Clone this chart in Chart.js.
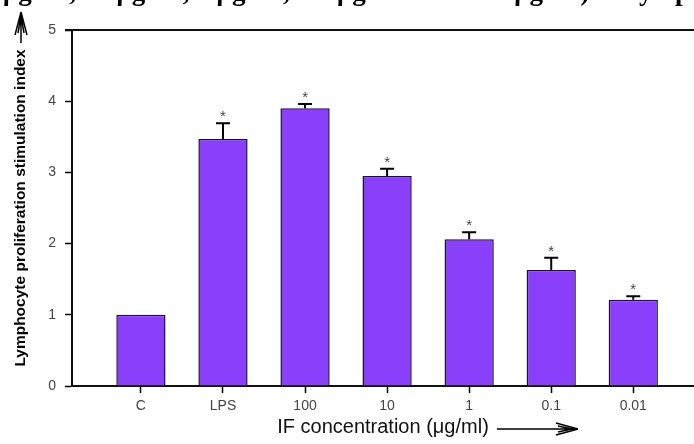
<!DOCTYPE html>
<html><head><meta charset="utf-8">
<script src="https://cdn.jsdelivr.net/npm/chart.js@4"></script>
<style>html,body{margin:0;padding:0;background:#fff;overflow:hidden}#wrap{width:694px;height:444px;position:relative}</style>
</head><body><div id="wrap"><canvas id="c" width="694" height="444"></canvas></div>
<script>
const categories = ['C', 'LPS', '100', '10', '1', '0.1', '0.01'];
const values = [1.0, 3.47, 3.90, 2.95, 2.06, 1.63, 1.21];
const errors = [0, 0.22, 0.06, 0.10, 0.10, 0.17, 0.05];
const significant = [false, true, true, true, true, true, true];
const yTickValues = [0, 1, 2, 3, 4, 5];
const yTitle = 'Lymphocyte proliferation stimulation index';
const xTitle = 'IF concentration (\u03bcg/ml)';
const captionPrefix = '100 ';
const captionRest = '\u03bcg/ml, 10 \u03bcg/ml, 1 \u03bcg/ml, 0.1 \u03bcg/ml and 0.01 \u03bcg/ml) on lymphocyte proliferation';

const extras = {
  id: 'extras',
  afterDatasetsDraw(chart) {
    const ctx = chart.ctx;
    const meta = chart.getDatasetMeta(0);
    const y = chart.scales.y;
    ctx.save();
    meta.data.forEach((bar, i) => {
      const top = y.getPixelForValue(values[i]);
      const cap = y.getPixelForValue(values[i] + errors[i]);
      if (errors[i] > 0) {
        ctx.strokeStyle = '#000';
        ctx.lineWidth = 2;
        ctx.beginPath();
        ctx.moveTo(bar.x, top);
        ctx.lineTo(bar.x, cap);
        ctx.moveTo(bar.x - 7, cap);
        ctx.lineTo(bar.x + 7, cap);
        ctx.stroke();
      }
      if (significant[i]) {
        ctx.fillStyle = '#444';
        ctx.font = '15px "Liberation Sans", Arial, sans-serif';
        ctx.textAlign = 'center';
        ctx.textBaseline = 'alphabetic';
        ctx.fillText('*', bar.x, cap - 2);
      }
    });
    ctx.restore();
  },
  afterDraw(chart) {
    const ctx = chart.ctx;
    const a = chart.chartArea;
    ctx.save();
    // top frame line
    ctx.strokeStyle = '#111';
    ctx.lineWidth = 2;
    ctx.beginPath();
    ctx.moveTo(a.left - 7, a.top);
    ctx.lineTo(chart.width, a.top);
    ctx.stroke();
    // vertical arrow above y title
    ctx.lineWidth = 1.5;
    ctx.strokeStyle = '#000';
    ctx.beginPath();
    ctx.moveTo(21, 12); ctx.lineTo(21, 43);
    ctx.moveTo(21, 12); ctx.lineTo(15, 35);
    ctx.moveTo(21, 12); ctx.lineTo(27, 35);
    ctx.moveTo(21, 16); ctx.lineTo(18, 33);
    ctx.moveTo(21, 16); ctx.lineTo(24, 33);
    ctx.stroke();
    // horizontal arrow after x title
    ctx.lineWidth = 1.3;
    ctx.beginPath();
    ctx.moveTo(497, 429); ctx.lineTo(576, 429);
    ctx.moveTo(578, 429); ctx.lineTo(556, 423);
    ctx.moveTo(578, 429); ctx.lineTo(556, 435);
    ctx.moveTo(572, 429); ctx.lineTo(558, 426);
    ctx.moveTo(572, 429); ctx.lineTo(558, 432);
    ctx.stroke();
    // clipped caption line at the very top
    ctx.fillStyle = '#000';
    ctx.font = 'bold 27px "Liberation Serif", "Times New Roman", serif';
    ctx.textAlign = 'left';
    ctx.textBaseline = 'alphabetic';
    const w = ctx.measureText(captionPrefix).width;
    ctx.fillText(captionPrefix + captionRest, 3 - w, 0);
    ctx.restore();
  }
};

new Chart(document.getElementById('c'), {
  type: 'bar',
  data: {
    datasets: [{
      data: categories.map((c, i) => ({ x: i, y: values[i] })),
      backgroundColor: 'rgb(138,63,251)',
      borderColor: '#1a1030',
      borderWidth: 1.5,
      categoryPercentage: 1,
      barPercentage: 0.6
    }]
  },
  options: {
    responsive: false,
    animation: false,
    devicePixelRatio: 1,
    layout: { padding: { top: 30, left: 0, right: 0, bottom: 0 } },
    plugins: { legend: { display: false }, tooltip: { enabled: false } },
    scales: {
      x: {
        type: 'linear',
        min: -0.84,
        max: 6.74,
        offset: false,
        afterFit(s) { s.height = 58; },
        afterBuildTicks(s) { s.ticks = categories.map((_, i) => ({ value: i })); },
        grid: { offset: false, drawOnChartArea: false, drawTicks: true, tickLength: 7, color: '#000', tickWidth: 1.5 },
        border: { display: true, color: '#111', width: 2 },
        ticks: {
          autoSkip: false, maxRotation: 0, padding: 5, color: '#444',
          font: { family: '"Liberation Sans", Arial, sans-serif', size: 14 },
          callback: (v) => categories[v] !== undefined ? categories[v] : ''
        },
        title: {
          display: true, text: xTitle, color: '#111',
          font: { family: '"Liberation Sans", Arial, sans-serif', size: 20 },
          padding: { top: 0, bottom: 5 }
        }
      },
      y: {
        min: 0, max: 5,
        afterFit(s) { s.width = 72; },
        afterBuildTicks(s) { s.ticks = yTickValues.map(v => ({ value: v })); },
        grid: { drawOnChartArea: false, drawTicks: true, tickLength: 7, color: '#000', tickWidth: 1.5 },
        border: { display: true, color: '#111', width: 2 },
        ticks: {
          padding: 9, color: '#444',
          font: { family: '"Liberation Sans", Arial, sans-serif', size: 14 }
        },
        title: {
          display: true, text: yTitle, color: '#000',
          font: { family: '"Liberation Sans", Arial, sans-serif', size: 15.5, weight: 'bold' },
          padding: { top: 11, bottom: 0 }
        }
      }
    }
  },
  plugins: [extras]
});
</script></body></html>
